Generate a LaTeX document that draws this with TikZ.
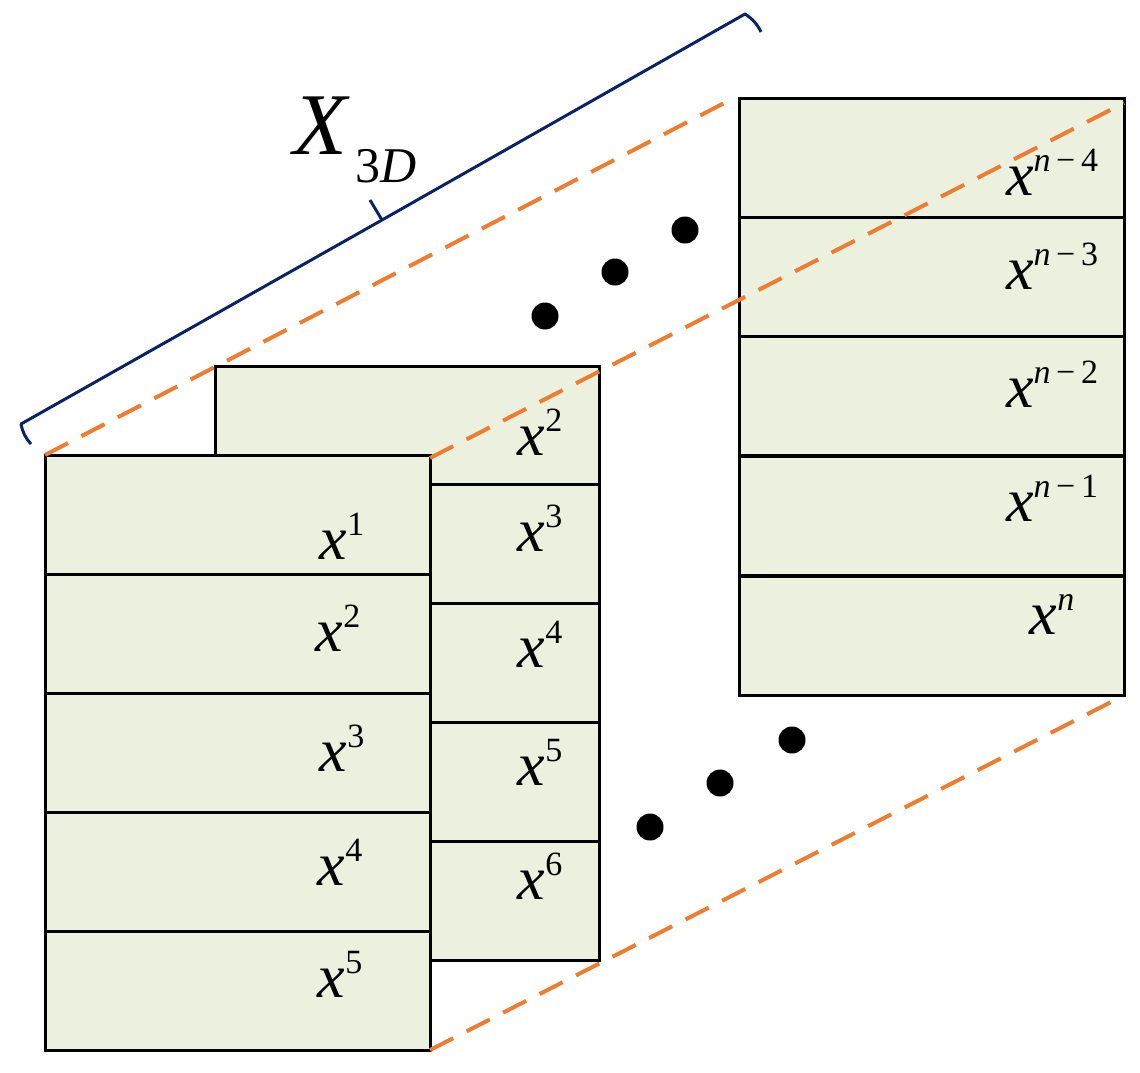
\documentclass[tikz,border=0pt]{standalone}
\usepackage{fontspec}
\setmainfont{Liberation Serif}
\definecolor{cellg}{HTML}{EBF1DE}
\definecolor{orng}{HTML}{ED7D31}
\definecolor{navy}{HTML}{0A2463}
\begin{document}
\begin{tikzpicture}[x=1pt,y=-1pt,
  cell/.style={draw=black,line width=3pt,fill=cellg},
  lab/.style={font=\fontsize{62}{62}\selectfont\itshape,inner sep=0},
  dsh/.style={draw=orng,line width=4pt,dash pattern=on 26pt off 15pt},
  dot/.style={circle,fill=black,minimum size=27pt,inner sep=0}]
\useasboundingbox (0,0) rectangle (1140,1072);
\newcommand{\lx}[1]{x\raisebox{24pt}{\fontsize{34}{34}\selectfont\upshape #1}}
% middle stack
\foreach \t in {366,484,603,722,841}{
  \draw[cell] (215,\t) rectangle (599,\t+119);}
\node[lab] (m2) at (540,432) {\lx{2}};
\node[lab] (m3) at (540,528) {\lx{3}};
\node[lab] (m4) at (540,644) {\lx{4}};
\node[lab] (m5) at (540,762) {\lx{5}};
\node[lab] (m6) at (540,876) {\lx{6}};
% front stack
\foreach \t in {455,574,693,812,931}{
  \draw[cell] (45,\t) rectangle (430,\t+119);}
\node[lab] (f1) at (342,536) {\lx{1}};
\node[lab] (f2) at (338,628) {\lx{2}};
\node[lab] (f3) at (342,748) {\lx{3}};
\node[lab] (f4) at (340,862) {\lx{4}};
\node[lab] (f5) at (340,974) {\lx{5}};
% right stack
\foreach \t in {98,217,336,456,576}{
  \draw[cell] (739,\t) rectangle (1124,\t+119);}
\node[lab] (r1) at (1052,172) {\lx{\itshape n\upshape\,−\,4}};
\node[lab] (r2) at (1052,266) {\lx{\itshape n\upshape\,−\,3}};
\node[lab] (r3) at (1052,384) {\lx{\itshape n\upshape\,−\,2}};
\node[lab] (r4) at (1052,498) {\lx{\itshape n\upshape\,−\,1}};
\node[lab] (r5) at (1052,614) {\lx{\itshape n}};
% dashed lines
\coordinate (a1) at (45,455); \coordinate (a2) at (730,100);
\coordinate (b1) at (430,458); \coordinate (b2) at (1124,103);
\coordinate (c1) at (430,1050); \coordinate (c2) at (1115,700);
\draw[dsh] (a1) -- (a2);
\draw[dsh] (b1) -- (b2);
\draw[dsh] (c1) -- (c2);
% dots
\node[dot] (d1) at (545,316) {};
\node[dot] (d2) at (615,272) {};
\node[dot] (d3) at (685,230) {};
\node[dot] (e1) at (650,827) {};
\node[dot] (e2) at (720,783) {};
\node[dot] (e3) at (792,740) {};
% brace
\coordinate (h1) at (31,444); \coordinate (h2) at (21,424);
\coordinate (m) at (382,220); \coordinate (t) at (370,200);
\coordinate (h3) at (745,14); \coordinate (h4) at (761,32);
\draw[navy,line width=3pt,line join=round] (h1) to[bend left=15] (h2) -- (m) -- (h3) to[bend left=15] (h4);
\draw[navy,line width=3pt] (t) -- (m);
\node[inner sep=0,font=\fontsize{88}{88}\selectfont\itshape] (X) at (355,140)
  {X\raisebox{-28pt}{\fontsize{50}{50}\selectfont\upshape\,3\itshape D}};
\end{tikzpicture}
\end{document}
